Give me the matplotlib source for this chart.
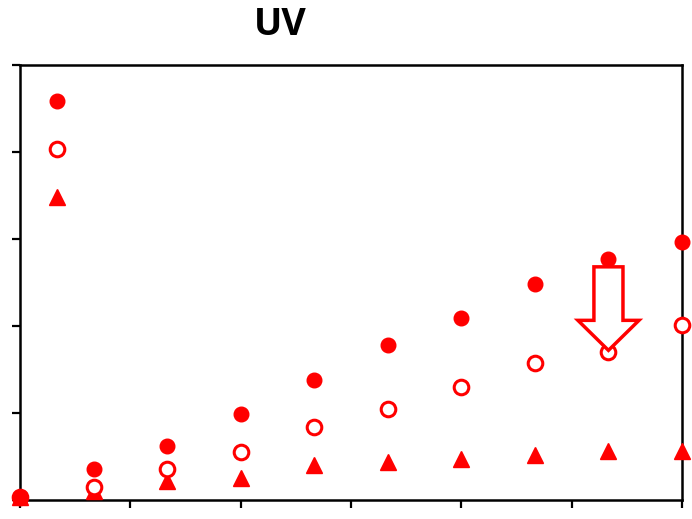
import numpy as np
import matplotlib.pyplot as plt
from matplotlib.patches import FancyArrow

# time points and the three measured series
hours = [0, 1, 2, 4, 6, 8, 10, 12, 14, 16, 18]
filled = [0.03, 4.59, 0.36, 0.62, 0.99, 1.38, 1.78, 2.09, 2.48, 2.77, 2.97]
hollow = [0.03, 4.03, 0.15, 0.36, 0.55, 0.84, 1.05, 1.30, 1.57, 1.70, 2.01]
triangle = [0.03, 3.48, 0.10, 0.22, 0.25, 0.40, 0.44, 0.47, 0.52, 0.56, 0.56]

RED = '#ff0000'

fig = plt.figure(figsize=(6.92, 5.19), dpi=100)
ax = fig.add_axes([20 / 692, 19 / 519, 662 / 692, 435 / 519])

ax.plot(hours, triangle, linestyle='none', marker='^', markersize=11,
        color=RED, clip_on=False, zorder=3)
ax.plot(hours, hollow, linestyle='none', marker='o', markersize=10.5,
        markerfacecolor='white', markeredgecolor=RED, markeredgewidth=2.2,
        clip_on=False, zorder=4)
ax.plot(hours, filled, linestyle='none', marker='o', markersize=10.5,
        color=RED, clip_on=False, zorder=5)

# hollow arrow pointing at the 16 h open circle
arrow = FancyArrow(16.0, 2.68, 0, -0.96, width=0.79, head_width=1.66,
                   head_length=0.345, length_includes_head=True,
                   facecolor='white', edgecolor=RED, linewidth=2.5, zorder=6)
ax.add_patch(arrow)

ax.set_xlim(0, 18)
ax.set_ylim(0, 5)
ax.set_xticks(np.arange(0, 19, 3))
ax.set_yticks(np.arange(0, 6, 1))
ax.set_xticklabels([])
ax.set_yticklabels([])
ax.tick_params(direction='out', length=6, width=1.6, colors='black')
for spine in ax.spines.values():
    spine.set_linewidth(1.8)

fig.text(280 / 692, 1 - 25 / 519, 'UV', ha='center', va='center',
         fontsize=27, fontweight='bold', family=['Open Sans', 'DejaVu Sans'])

fig.savefig('out.png', dpi=100)
